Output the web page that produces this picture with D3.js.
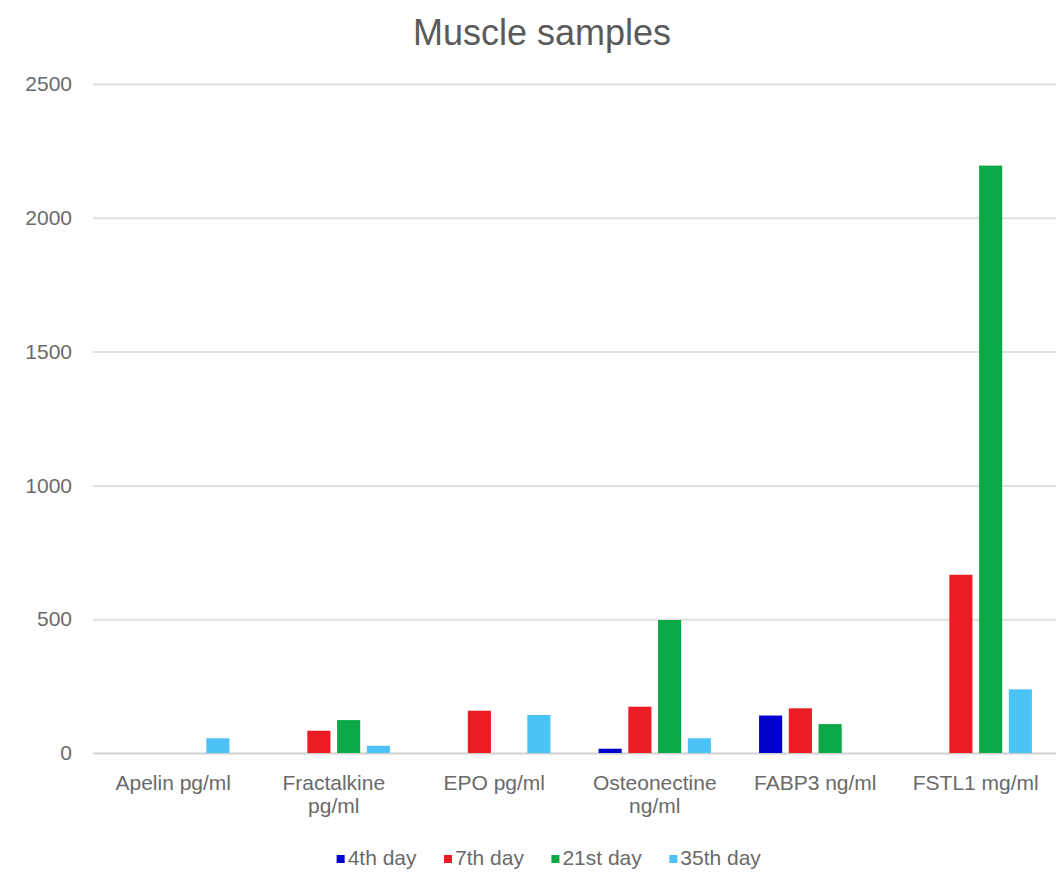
<!DOCTYPE html>
<html>
<head>
<meta charset="utf-8">
<script src="https://cdn.jsdelivr.net/npm/d3@7"></script>
<style>
  html, body { margin: 0; padding: 0; background: #fff; }
  svg { display: block; font-family: "Liberation Sans", Arial, sans-serif; }
</style>
</head>
<body>
<svg id="chart" width="1056" height="874"></svg>
<script>
// Marker categories along the x axis
const categories = ["Apelin pg/ml", "Fractalkine pg/ml", "EPO pg/ml", "Osteonectine ng/ml", "FABP3 ng/ml", "FSTL1 mg/ml"];
// Sampling days (series)
const seriesNames = ["4th day", "7th day", "21st day", "35th day"];
const seriesColors = ["#0000cd", "#ed1c24", "#0aa846", "#4cc3f7"];
// Values per series, one per category
const day4 = [0, 0, 0, 16, 140, 0];
const day7 = [0, 83, 158, 173, 167, 666];
const day21 = [0, 123, 0, 497, 108, 2195];
const day35 = [55, 27, 142, 55, 0, 238];
const yTicks = [0, 500, 1000, 1500, 2000, 2500];

const seriesValues = [day4, day7, day21, day35];

const svg = d3.select("#chart");
const plot = { left: 93, right: 1056, top: 84, bottom: 753 };

const x0 = d3.scaleBand().domain(categories).range([plot.left, plot.right])
  .paddingInner(0.3).paddingOuter(0.15);
const x1 = d3.scaleBand().domain(seriesNames).range([0, x0.bandwidth()])
  .paddingInner(0.223).paddingOuter(0);
const y = d3.scaleLinear().domain([0, 2500]).range([plot.bottom, plot.top]);

// Title
svg.append("text")
  .attr("x", 542).attr("y", 45)
  .attr("text-anchor", "middle")
  .attr("font-size", 36)
  .attr("fill", "#5a5a5a")
  .text("Muscle samples");

// Horizontal gridlines and y tick labels
const yAxis = d3.axisLeft(y).tickValues(yTicks).tickFormat(d3.format("d"))
  .tickSize(-(plot.right - plot.left)).tickPadding(21);
const gy = svg.append("g").attr("transform", `translate(${plot.left},0)`).call(yAxis);
gy.select(".domain").remove();
gy.selectAll(".tick line").attr("stroke", "#e0e0e0").attr("stroke-width", 2);
gy.selectAll(".tick").filter(d => d === 0).select("line").attr("stroke", "#d0d0d0");
gy.selectAll(".tick text")
  .attr("font-size", 21)
  .attr("font-family", "'Liberation Sans', Arial, sans-serif")
  .attr("fill", "#6a6a6a");

// Bars
const groups = svg.append("g").selectAll("g")
  .data(categories)
  .join("g")
  .attr("transform", d => `translate(${x0(d)},0)`);

groups.selectAll("rect")
  .data((d, i) => seriesNames.map((s, k) => ({ s, k, v: seriesValues[k][i] })).filter(e => e.v > 0))
  .join("rect")
  .attr("x", e => x1(e.s))
  .attr("width", x1.bandwidth())
  .attr("y", e => y(e.v))
  .attr("height", e => y(0) - y(e.v))
  .attr("fill", e => seriesColors[e.k]);

// Category labels, wrapped when wider than the band step
const xAxis = d3.axisBottom(x0).tickSize(0).tickPadding(0);
const gx = svg.append("g").attr("transform", `translate(0,${plot.bottom})`).call(xAxis);
gx.select(".domain").remove();
gx.selectAll(".tick text")
  .attr("font-size", 21)
  .attr("font-family", "'Liberation Sans', Arial, sans-serif")
  .attr("fill", "#6a6a6a")
  .each(function (d) {
    const t = d3.select(this);
    t.text(null).attr("y", 0).attr("dy", null);
    const words = d.split(" ");
    const maxW = x0.step() - 8;
    let lines = [], cur = [];
    const probe = t.append("tspan");
    for (const w of words) {
      const test = cur.concat(w).join(" ");
      probe.text(test);
      if (cur.length && probe.node().getComputedTextLength() > maxW) {
        lines.push(cur.join(" "));
        cur = [w];
      } else {
        cur.push(w);
      }
    }
    lines.push(cur.join(" "));
    probe.remove();
    lines.forEach((ln, i) => {
      t.append("tspan").attr("x", 0).attr("y", 37 + i * 23).text(ln);
    });
  });

// Legend
const legend = svg.append("g");
const items = legend.selectAll("g").data(seriesNames).join("g");
items.append("rect").attr("width", 8).attr("height", 8).attr("y", -7)
  .attr("fill", (d, i) => seriesColors[i]);
items.append("text").attr("x", 11).attr("y", 0)
  .attr("font-size", 21).attr("fill", "#6a6a6a")
  .attr("dominant-baseline", "middle")
  .attr("dy", "-0.12em")
  .text(d => d);
let off = 0;
const offsets = [];
items.each(function () {
  offsets.push(off);
  off += this.getBBox().width + 27;
});
const total = off - 27;
const startX = 549 - total / 2;
items.attr("transform", (d, i) => `translate(${startX + offsets[i]},862)`);
</script>
</body>
</html>
